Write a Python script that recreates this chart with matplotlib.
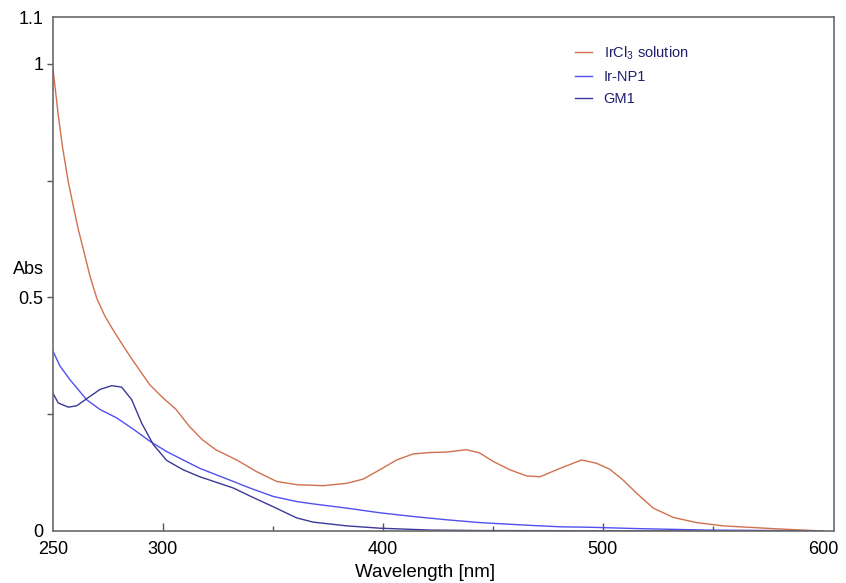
import numpy as np
import matplotlib
matplotlib.use('Agg')
import matplotlib.pyplot as plt

plt.rcParams['font.family'] = ['Liberation Sans', 'DejaVu Sans']
plt.rcParams['mathtext.fontset'] = 'custom'
plt.rcParams['mathtext.rm'] = 'Liberation Sans'

# IrCl3 solution
ircl3_nm = [250, 252.4, 254.4, 257, 259.5, 261.5, 263.8, 266.8, 270, 273.6, 277, 281, 285,
            294, 300, 306, 312, 318, 324, 333.5, 342.6, 351.7, 361, 372.9, 383.5, 391,
            398.6, 406.2, 413.8, 421.4, 429, 438, 444, 450.1, 457.7, 465.3, 471.4, 480.5,
            490.3, 497.1, 503.2, 509.2, 515.3, 522.9, 532, 542.6, 554.7, 577.4, 600]
ircl3_abs = [0.99, 0.89, 0.82, 0.746, 0.69, 0.646, 0.603, 0.546, 0.497, 0.46, 0.433, 0.403, 0.374,
             0.313, 0.285, 0.26, 0.224, 0.195, 0.174, 0.152, 0.127, 0.106, 0.099, 0.097, 0.102, 0.111,
             0.131, 0.152, 0.165, 0.168, 0.169, 0.174, 0.167, 0.149, 0.131, 0.118, 0.116, 0.134,
             0.152, 0.145, 0.132, 0.109, 0.081, 0.049, 0.029, 0.018, 0.011, 0.005, 0.0]

# Ir-NP1
np1_nm = [250, 253.2, 257.7, 265.3, 271.4, 279, 286.5, 294.1, 301.7, 309.2, 316.8, 324.4,
          332, 339.5, 350.1, 360.8, 368.3, 383.5, 398.6, 413.8, 429, 444, 459.2, 471.4,
          480.5, 494, 516.8, 547, 577, 600]
np1_abs = [0.385, 0.353, 0.324, 0.281, 0.26, 0.242, 0.218, 0.192, 0.17, 0.152, 0.134, 0.12,
           0.106, 0.092, 0.074, 0.063, 0.058, 0.049, 0.039, 0.031, 0.024, 0.018, 0.014, 0.011,
           0.009, 0.008, 0.005, 0.002, 0.001, 0.0]

# GM1
gm1_nm = [250, 252.4, 257, 260.8, 265.3, 271.4, 276.7, 281.2, 285.8, 290.3, 295.6, 301.7,
          309.2, 316.8, 324.4, 332, 339.5, 350.1, 360.8, 368.3, 383.5, 398.6, 421.4, 444,
          500, 600]
gm1_abs = [0.295, 0.274, 0.265, 0.268, 0.283, 0.303, 0.311, 0.308, 0.281, 0.231, 0.185, 0.151,
           0.131, 0.116, 0.104, 0.092, 0.075, 0.052, 0.028, 0.019, 0.011, 0.006, 0.002, 0.001,
           0.0005, 0.0]

fig = plt.figure(figsize=(8.46, 5.83), dpi=100)
ax = fig.add_axes([0.0626, 0.0892, 0.923, 0.8816])

ax.plot(ircl3_nm, ircl3_abs, color='#d2704e', lw=1.0, label='IrCl$_3$ solution')
ax.plot(np1_nm, np1_abs, color='#5050f0', lw=1.0, label='Ir-NP1')
ax.plot(gm1_nm, gm1_abs, color='#3c3898', lw=1.0, label='GM1')

ax.set_xlim(250, 605)
ax.set_ylim(0, 1.1)

for s in ax.spines.values():
    s.set_color('#6a6a6a')
    s.set_linewidth(1.2)

ax.set_xticks([250, 300, 400, 500, 600])
ax.set_xticks([350, 450, 550], minor=True)
ax.tick_params(axis='x', which='major', direction='in', length=6, width=1,
               color='#555555', pad=7, labelsize=13)
ax.tick_params(axis='x', which='minor', direction='in', length=3.5, width=1,
               color='#555555')
xt = ax.xaxis.get_major_ticks()
xt[0].tick1line.set_visible(False)
xt[-1].tick1line.set_visible(False)

ax.set_yticks([0, 0.5, 1, 1.1])
ax.set_yticklabels(['0', '0.5', '1', '1.1'])
ax.set_yticks([0.25, 0.75], minor=True)
ax.tick_params(axis='y', which='both', direction='out', length=4.5, width=1,
               color='#555555', pad=2.5, labelsize=13)
yt = ax.yaxis.get_major_ticks()
yt[0].tick1line.set_visible(False)
yt[-1].tick1line.set_visible(False)

ax.set_xlabel('Wavelength [nm]', fontsize=13.5)
ax.xaxis.set_label_coords(0.476, -0.064)
ax.text(-0.012, 0.508, 'Abs', transform=ax.transAxes, ha='right', va='center',
        fontsize=13)

leg = ax.legend(loc='upper left', bbox_to_anchor=(0.668, 0.947), frameon=False,
                fontsize=10.5, handlelength=1.2, handletextpad=0.8,
                labelspacing=0.55, borderpad=0, borderaxespad=0)
for t in leg.get_texts():
    t.set_color('#1e1e6e')

fig.savefig('out.png', dpi=100)
